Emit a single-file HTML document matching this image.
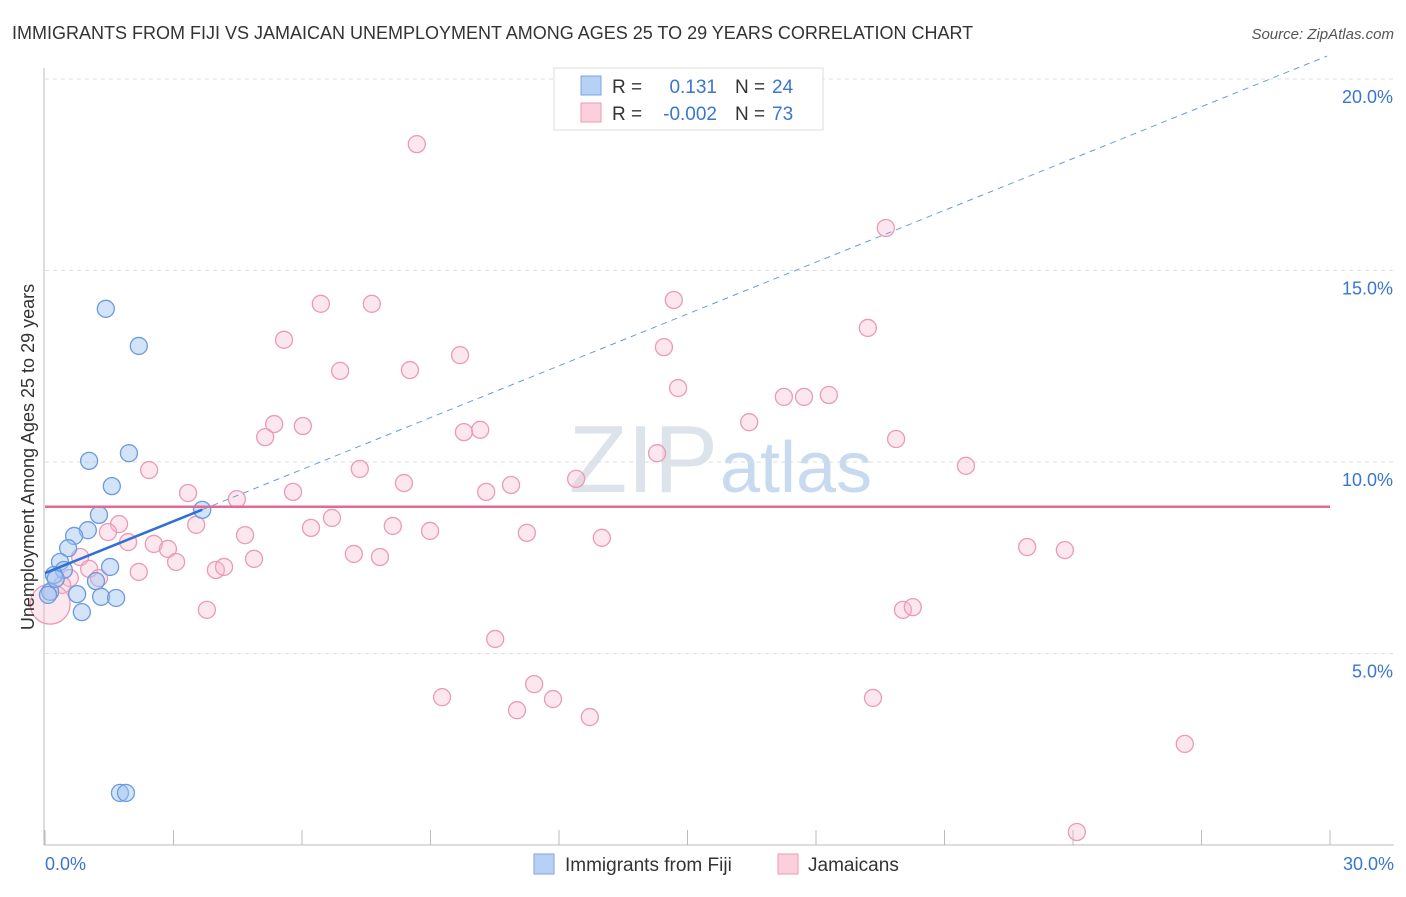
<!DOCTYPE html>
<html><head><meta charset="utf-8"><style>
body{margin:0;background:#fff;font-family:"Liberation Sans",sans-serif;}
svg text{font-family:"Liberation Sans",sans-serif;}
</style></head><body>
<svg id="chart" width="1406" height="892">
<text x="12" y="39" font-size="18" fill="#333">IMMIGRANTS FROM FIJI VS JAMAICAN UNEMPLOYMENT AMONG AGES 25 TO 29 YEARS CORRELATION CHART</text>
<text x="1394" y="39" font-size="15" fill="#555" font-style="italic" text-anchor="end">Source: ZipAtlas.com</text>
<text x="718" y="492" font-size="96" fill="#dde3ea" text-anchor="end" font-family="Liberation Serif">ZIP</text>
<text x="720" y="492" font-size="72" fill="#c8daf0">atlas</text>
<g id="grid"></g><g id="axes"></g><g id="marks"></g>
<text transform="translate(34,457) rotate(-90)" font-size="18" fill="#333" text-anchor="middle">Unemployment Among Ages 25 to 29 years</text>
<g>
<rect x="554" y="68" width="269" height="62" fill="#fff" stroke="#ddd"/>
<rect x="581" y="76" width="20" height="19" fill="#b7d1f5" stroke="#7aa6e0"/>
<rect x="581" y="103" width="20" height="19" fill="#fccfdc" stroke="#ee9ab5"/>
<text x="612" y="93" font-size="19" fill="#333">R =</text><text x="717" y="93" font-size="19" fill="#3a76d0" text-anchor="end">0.131</text>
<text x="735" y="93" font-size="19" fill="#333">N =</text><text x="772" y="93" font-size="19" fill="#3a76d0">24</text>
<text x="612" y="120" font-size="19" fill="#333">R =</text><text x="717" y="120" font-size="19" fill="#3a76d0" text-anchor="end">-0.002</text>
<text x="735" y="120" font-size="19" fill="#333">N =</text><text x="772" y="120" font-size="19" fill="#3a76d0">73</text>
</g>
<g>
<rect x="534" y="854" width="20" height="20" fill="#b7d1f5" stroke="#7aa6e0"/>
<text x="565" y="871" font-size="19" fill="#333">Immigrants from Fiji</text>
<rect x="778" y="854" width="20" height="20" fill="#fccfdc" stroke="#ee9ab5"/>
<text x="808" y="871" font-size="19" fill="#333">Jamaicans</text>
</g>
</svg>
<script>
const fijiX=[1.42,2.19,1.03,1.96,1.56,1.26,3.67,1.00,0.68,0.54,1.52,0.35,0.44,0.21,1.19,0.75,1.31,1.66,0.86,0.12,0.07,1.75,1.89,0.25];
const fijiY=[14.0,13.03,10.03,10.23,9.37,8.62,8.75,8.22,8.07,7.75,7.26,7.39,7.18,7.05,6.89,6.55,6.48,6.45,6.08,6.61,6.53,1.36,1.36,6.95];
const jamX=[8.68,19.63,6.44,7.63,14.68,5.58,19.21,9.69,14.45,6.89,8.52,14.78,17.25,18.3,17.72,5.35,6.02,5.14,9.78,10.16,16.44,19.87,14.29,2.43,7.35,21.5,12.40,8.38,10.88,3.34,5.79,10.30,4.48,6.70,1.73,3.53,6.21,8.12,8.99,1.47,4.67,11.25,1.94,2.54,13.0,2.87,22.93,23.81,7.21,7.82,4.88,0.82,3.06,1.03,2.19,3.99,4.18,0.58,1.26,0.40,3.78,20.03,20.26,10.51,9.27,11.42,11.86,11.02,12.72,19.33,26.61,24.09,0.12];
const jamY=[18.30,16.11,14.13,14.13,14.23,13.19,13.50,12.79,13.0,12.38,12.40,11.93,11.70,11.75,11.70,10.99,10.94,10.65,10.78,10.84,11.04,10.60,10.23,9.79,9.82,9.9,9.56,9.45,9.40,9.19,9.22,9.22,9.03,8.54,8.38,8.36,8.28,8.33,8.20,8.17,8.09,8.15,7.91,7.86,8.02,7.73,7.78,7.70,7.60,7.52,7.47,7.52,7.39,7.21,7.13,7.18,7.26,6.97,6.97,6.79,6.14,6.14,6.21,5.38,3.86,4.20,3.81,3.52,3.34,3.84,2.64,0.34,6.29];
const yTicks=[5,10,15,20];
const xTickVals=[0,3,6,9,12,15,18,21,24,27,30];
const fijiTrend=[7.1,0.451];
const jamMean=8.83;
const sx=v=>45+v/30*1285, sy=v=>845-v*38.3;
const NS='http://www.w3.org/2000/svg';
function mk(p,t,a){const e=document.createElementNS(NS,t);for(const k in a)e.setAttribute(k,a[k]);p.appendChild(e);return e;}
const grid=document.getElementById('grid'),axes=document.getElementById('axes'),marks=document.getElementById('marks');
yTicks.forEach(v=>{
 const l=mk(grid,'line',{x1:45,x2:1394,y1:sy(v),y2:sy(v),stroke:'#ddd','stroke-dasharray':'4,4'});
 
 
 const t=mk(axes,'text',{x:1393,y:sy(v)+24,'font-size':18,fill:'#3a76d0','text-anchor':'end'});t.textContent=v.toFixed(1)+'%';
 
 
});
const ax=mk(axes,'line',{x1:44,x2:44,y1:68,y2:845,stroke:'#bbb'});


const bx=mk(axes,'line',{x1:44,x2:1394,y1:845,y2:845,stroke:'#bbb'});


xTickVals.forEach(v=>{const l=mk(axes,'line',{x1:sx(v),x2:sx(v),y1:830,y2:845,stroke:'#bbb'});
 
 });
[[0,'0.0%','start',45],[30,'30.0%','end',1394]].forEach(([v,s,a,x])=>{const t=mk(axes,'text',{x:x,y:870,'font-size':18,fill:'#3a76d0','text-anchor':a});t.textContent=s;
 
 });
jamX.forEach((x,i)=>{const c=mk(marks,'circle',{cx:sx(x),cy:sy(jamY[i]),r:i==jamX.length-1?20:8.5,fill:'rgba(248,185,205,0.35)',stroke:'#eb9ab4','stroke-width':1.3});
 
 });
fijiX.forEach((x,i)=>{const c=mk(marks,'circle',{cx:sx(x),cy:sy(fijiY[i]),r:8.5,fill:'rgba(160,196,240,0.45)',stroke:'#6a9ae0','stroke-width':1.3});
 
 });
const jl=mk(marks,'line',{x1:sx(0),x2:sx(30),y1:sy(jamMean),y2:sy(jamMean),stroke:'#e06a93','stroke-width':2.5});


const xe=(20.6-fijiTrend[0])/fijiTrend[1];
const fd=mk(marks,'line',{x1:sx(3.67),y1:sy(fijiTrend[0]+fijiTrend[1]*3.67),x2:sx(xe),y2:sy(20.6),stroke:'#6a9ae0','stroke-width':1,'stroke-dasharray':'6,5'});


const fl=mk(marks,'line',{x1:sx(0),y1:sy(fijiTrend[0]),x2:sx(3.67),y2:sy(fijiTrend[0]+fijiTrend[1]*3.67),stroke:'#2f6fd6','stroke-width':2.5});


</script>
</body></html>
